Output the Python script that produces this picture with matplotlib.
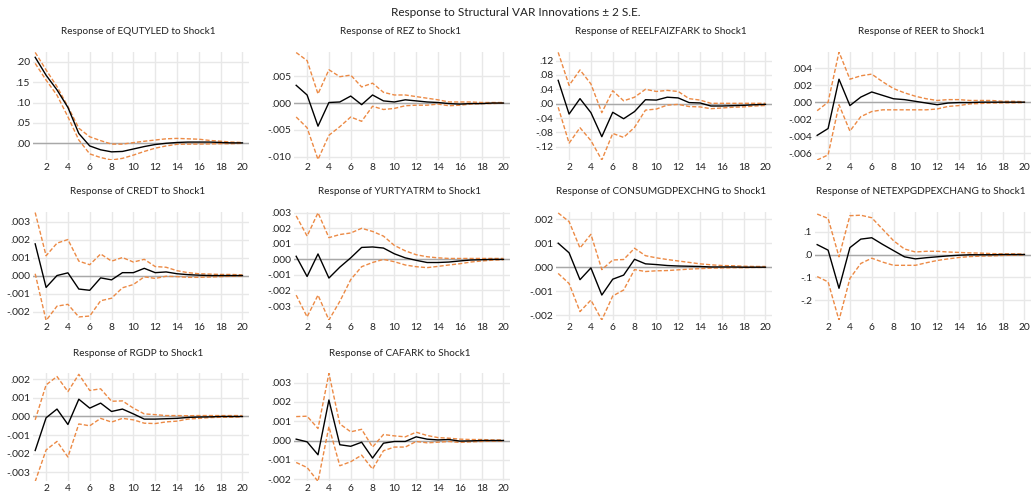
import matplotlib
matplotlib.use("Agg")
import matplotlib.pyplot as plt
import numpy as np

plt.rcParams['font.family'] = ['Lato', 'DejaVu Sans']

periods = list(range(1, 21))

titles = ["Response of EQUTYLED to Shock1", "Response of REZ to Shock1",
          "Response of REELFAIZFARK to Shock1", "Response of REER to Shock1",
          "Response of CREDT to Shock1", "Response of YURTYATRM to Shock1",
          "Response of CONSUMGDPEXCHNG to Shock1", "Response of NETEXPGDPEXCHANG to Shock1",
          "Response of RGDP to Shock1", "Response of CAFARK to Shock1"]

# EQUTYLED
equtyled_mean = [.211, .167, .131, .088, .024, -.0065, -.016, -.021, -.020, -.014, -.008, -.003, 0.0, .002, .003, .003, .003, .002, .001, .001]
equtyled_up = [.223, .180, .139, .090, .037, .016, .0065, -.002, -.002, .0016, .005, .008, .011, .012, .011, .010, .007, .005, .003, .002]
equtyled_lo = [.196, .155, .118, .065, .008, -.026, -.035, -.041, -.037, -.029, -.020, -.012, -.0065, -.0025, -.002, -.002, -.0015, -.001, -.001, 0.0]

# REZ
rez_mean = [.0033, .0015, -.0043, .0001, .0002, .0013, -.0003, .0015, .0004, .0002, .0006, .0004, .0002, .0001, -.0001, -.0002, -.0001, -.0001, 0.0, 0.0]
rez_up = [.0094, .0079, .0017, .0062, .0049, .0052, .0030, .0037, .0020, .0015, .0015, .0012, .0009, .0006, .0002, .0002, .0002, .0001, .0001, .0001]
rez_lo = [-.0026, -.0046, -.0105, -.0060, -.0044, -.0026, -.0034, -.0006, -.0012, -.0010, -.0005, -.0004, -.0004, -.0002, -.0005, -.0004, -.0002, -.0001, -.0001, 0.0]

# REELFAIZFARK
reel_mean = [.065, -.029, .014, -.025, -.092, -.024, -.042, -.022, .011, .010, .018, .016, .003, .002, -.0065, -.0065, -.0056, -.0047, -.003, -.002]
reel_up = [.143, .051, .094, .055, -.025, .036, .008, .018, .040, .034, .037, .034, .014, .010, .001, .001, .001, .001, .001, .001]
reel_lo = [-.010, -.110, -.067, -.103, -.157, -.083, -.094, -.066, -.018, -.015, -.004, -.002, -.008, -.009, -.014, -.012, -.010, -.009, -.0065, -.005]

# REER
reer_mean = [-.0039, -.0031, .0027, -.0004, .0006, .0012, .0008, .0004, .0003, .0001, -.0001, -.0003, -.0001, -.00005, -.00005, 0.0, 0.0, 0.0, 0.0, 0.0]
reer_up = [-.0010, 0.0, .0059, .0027, .0031, .0033, .0024, .0016, .0011, .0007, .0004, .0002, .0003, .0003, .0002, .0002, .0002, .0001, .0001, .00005]
reer_lo = [-.0068, -.0062, -.0003, -.0034, -.0017, -.0011, -.0009, -.0009, -.0009, -.0009, -.0009, -.0008, -.0005, -.0004, -.0002, -.00015, -.0001, -.00008, -.00008, -.00005]

# CREDT
credt_mean = [.00176, -.00066, 0.0, .00015, -.00075, -.00082, -.00013, -.00024, .00016, .00016, .0004, .00016, .0002, .0001, .00005, .00002, 0.0, 0.0, 0.0, 0.0]
credt_up = [.0035, .0011, .0018, .0020, .0008, .0006, .0012, .0008, .0010, .00075, .0009, .0005, .00046, .00027, .00016, .0001, .00008, .00006, .00006, .00004]
credt_lo = [.0001, -.0025, -.0017, -.0016, -.0023, -.00225, -.0014, -.00126, -.00068, -.0005, -.00007, -.00016, -.00004, -.00006, -.0001, -.0001, -.00008, -.00006, -.00004, -.00002]

# YURTYATRM
yurt_mean = [.0002, -.0011, .00035, -.0012, -.0005, .0001, .00077, .0008, .00073, .00036, .0001, -.00006, -.0002, -.0002, -.00017, -.0001, -.00004, -.00002, 0.0, 0.0]
yurt_up = [.0028, .0015, .0030, .0014, .0016, .0017, .0020, .0018, .0015, .0009, .00055, .0003, .00017, .0001, .00006, .00006, .00006, .00006, .00006, .00006]
yurt_lo = [-.0023, -.0037, -.0023, -.0039, -.0027, -.0013, -.00047, -.0002, 0.0, -.00015, -.00036, -.00047, -.00053, -.00045, -.00036, -.00028, -.00017, -.0001, -.00005, -.00002]

# CONSUMGDPEXCHNG
cons_mean = [.0010, .0006, -.00052, -.00003, -.00116, -.0005, -.00033, .00033, .00014, .00011, .00007, .00005, .00004, .00003, .00001, .00001, .00001, 0.0, 0.0, 0.0]
cons_up = [.00226, .0019, .0008, .00137, -.0001, .0003, .00032, .00079, .00048, .00039, .00032, .00026, .0002, .00014, .0001, .00007, .00006, .00004, .00003, .00003]
cons_lo = [-.00026, -.00068, -.00185, -.00137, -.0022, -.0012, -.00095, -.0001, -.00018, -.00015, -.00014, -.00011, -.00008, -.00006, -.00004, -.00003, -.00002, -.00002, -.00001, -.00001]

# NETEXPGDPEXCHANG
netexp_mean = [.043, .019, -.147, .030, .067, .073, .044, .017, -.010, -.019, -.014, -.010, -.006, -.003, -.001, -.001, -.001, 0.0, 0.0, 0.0]
netexp_up = [.176, .157, -.010, .169, .171, .160, .110, .060, .024, .011, .014, .014, .011, .009, .007, .006, .004, .003, .003, .002]
netexp_lo = [-.096, -.119, -.286, -.104, -.039, -.016, -.033, -.047, -.047, -.047, -.036, -.026, -.019, -.013, -.009, -.007, -.006, -.004, -.003, -.002]

# RGDP
rgdp_mean = [-.00183, -.00007, .0004, -.00043, .00093, .00045, .00072, .00027, .0004, .00014, -.00014, -.00014, -.00012, -.0001, -.00005, -.00003, -.00002, 0.0, 0.0, 0.0]
rgdp_up = [-.00018, .0017, .00215, .00134, .00227, .0014, .00149, .00082, .00084, .00045, .00014, .0001, .00005, .00005, .00004, .00005, .00005, .00005, .00005, .00005]
rgdp_lo = [-.0035, -.0018, -.00134, -.00218, -.0004, -.0005, -.0001, -.0003, -.0001, -.00018, -.00036, -.00038, -.00029, -.00025, -.00014, -.0001, -.00006, -.00004, -.00004, -.00002]

# CAFARK
cafark_mean = [.00007, -.00007, -.00074, .0021, -.00022, -.0003, -.00009, -.00091, -.00014, -.00005, -.00005, .00019, .00007, .00003, .00005, -.00003, -.00002, 0.0, 0.0, 0.0]
cafark_up = [.00124, .00126, .00062, .00348, .00086, .00045, .00058, -.00034, .00031, .00024, .00019, .00043, .00026, .00015, .00012, .00007, .00005, .00005, .00003, .00003]
cafark_lo = [-.00114, -.0014, -.00212, .00072, -.00131, -.0011, -.00076, -.00148, -.00053, -.00034, -.00034, -.00005, -.00012, -.00009, -.00005, -.0001, -.00007, -.00005, -.00003, -.00002]

means = [equtyled_mean, rez_mean, reel_mean, reer_mean, credt_mean, yurt_mean, cons_mean, netexp_mean, rgdp_mean, cafark_mean]
ups = [equtyled_up, rez_up, reel_up, reer_up, credt_up, yurt_up, cons_up, netexp_up, rgdp_up, cafark_up]
los = [equtyled_lo, rez_lo, reel_lo, reer_lo, credt_lo, yurt_lo, cons_lo, netexp_lo, rgdp_lo, cafark_lo]

ytick_vals = [
    [0.0, .05, .10, .15, .20],
    [-.010, -.005, 0.0, .005],
    [-.12, -.08, -.04, 0.0, .04, .08, .12],
    [-.006, -.004, -.002, 0.0, .002, .004],
    [-.002, -.001, 0.0, .001, .002, .003],
    [-.003, -.002, -.001, 0.0, .001, .002, .003],
    [-.002, -.001, 0.0, .001, .002],
    [-.2, -.1, 0.0, .1],
    [-.003, -.002, -.001, 0.0, .001, .002],
    [-.002, -.001, 0.0, .001, .002, .003],
]
ytick_labels = [
    [".00", ".05", ".10", ".15", ".20"],
    ["-.010", "-.005", ".000", ".005"],
    ["-.12", "-.08", "-.04", ".00", ".04", ".08", ".12"],
    ["-.006", "-.004", "-.002", ".000", ".002", ".004"],
    ["-.002", "-.001", ".000", ".001", ".002", ".003"],
    ["-.003", "-.002", "-.001", ".000", ".001", ".002", ".003"],
    ["-.002", "-.001", ".000", ".001", ".002"],
    ["-.2", "-.1", ".0", ".1"],
    ["-.003", "-.002", "-.001", ".000", ".001", ".002"],
    ["-.002", "-.001", ".000", ".001", ".002", ".003"],
]
ylims = [(-0.041, 0.224), (-0.0106, 0.0095), (-0.157, 0.144), (-0.0068, 0.0059),
         (-0.00247, 0.00353), (-0.0039, 0.00305), (-0.0022, 0.0023), (-0.285, 0.185),
         (-0.00347, 0.00234), (-0.0021, 0.0035)]

xticks = [2, 4, 6, 8, 10, 12, 14, 16, 18, 20]

W, H = 1034, 497
fig = plt.figure(figsize=(W / 100, H / 100), dpi=100)
fig.text(516 / W, 1 - 12 / H, "Response to Structural VAR Innovations \u00b1 2 S.E.",
         ha='center', va='center', fontsize=8.5, color='#222222')

col_left = [33, 294, 556, 815]
ax_w = 216
row_top = [52, 212, 373]
ax_h = 108
title_cx = [138, 400, 661, 921]

orange = '#EC8A45'
for i in range(10):
    r, c = divmod(i, 4)
    left = col_left[c]
    top = row_top[r]
    ax = fig.add_axes([left / W, 1 - (top + ax_h) / H, ax_w / W, ax_h / H])
    ax.set_xlim(0.8, 20.6)
    ax.set_ylim(*ylims[i])
    ax.set_xticks(xticks)
    ax.set_xticklabels([str(t) for t in xticks])
    ax.set_yticks(ytick_vals[i])
    ax.set_yticklabels(ytick_labels[i])
    ax.grid(True, color='#E8E8E8', linewidth=1.0)
    ax.set_axisbelow(True)
    for s in ax.spines.values():
        s.set_visible(False)
    ax.tick_params(length=0, labelsize=7.4, colors='#222222', pad=2)
    ax.axhline(0, color='#A8A8A8', linewidth=1.0, zorder=1)
    ax.plot(periods, ups[i], color=orange, linestyle=(0, (3, 1.5)), linewidth=1.0, zorder=2)
    ax.plot(periods, los[i], color=orange, linestyle=(0, (3, 1.5)), linewidth=1.0, zorder=2)
    ax.plot(periods, means[i], color='black', linewidth=1.0, zorder=3)
    fig.text(title_cx[c] / W, 1 - (top - 20) / H, titles[i], ha='center', va='center',
             fontsize=7.2, color='#222222')

fig.savefig("out.png", dpi=100, facecolor='white')
